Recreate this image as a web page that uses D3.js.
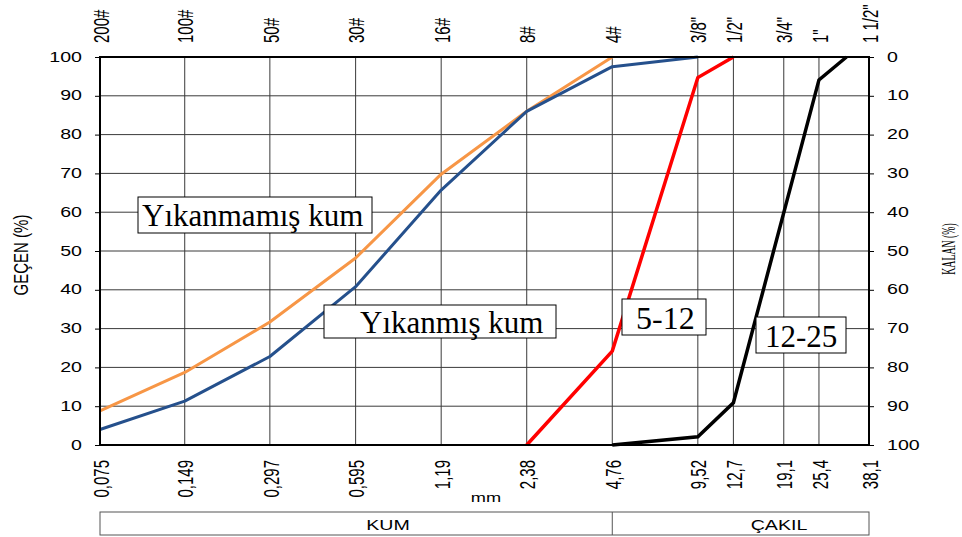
<!DOCTYPE html>
<html>
<head>
<meta charset="utf-8">
<script src="https://cdn.jsdelivr.net/npm/d3@7"></script>
<style>
  body { margin: 0; background: #fff; }
  svg { display: block; }
</style>
</head>
<body>
<svg id="chart"></svg>
<script>
// sieve openings (mm) and labels
const sizes = [0.075, 0.149, 0.297, 0.595, 1.19, 2.38, 4.76, 9.52, 12.7, 19.1, 25.4, 38.1];
const mmLabels = ["0,075", "0,149", "0,297", "0,595", "1,19", "2,38", "4,76", "9,52", "12,7", "19,1", "25,4", "38,1"];
const sieveLabels = ["200#", "100#", "50#", "30#", "16#", "8#", "4#", "3/8\"", "1/2\"", "3/4\"", "1\"", "1 1/2\""];
const yTicks = [0, 10, 20, 30, 40, 50, 60, 70, 80, 90, 100];

// passing (%) for each material
const unwashedX = [0.075, 0.149, 0.297, 0.595, 1.19, 2.38, 4.76];
const unwashedY = [8.8, 18.7, 31.7, 48.2, 69.8, 86, 100];
const washedX = [0.075, 0.149, 0.297, 0.595, 1.19, 2.38, 4.76, 9.52];
const washedY = [4, 11.3, 22.8, 40.8, 65.7, 86, 97.5, 100];
const agg512X = [2.38, 4.76, 9.52, 12.7];
const agg512Y = [0, 24.2, 94.7, 100];
const agg1225X = [4.76, 9.52, 12.7, 25.4, 31.75];
const agg1225Y = [0, 2.1, 10.9, 94.1, 100];

const draw = () => {
    let svgWidth = 962;
    let svgHeight = 537;
    let margin = { top: 57, right: 93, bottom: 92, left: 100 };
    let width = svgWidth - margin.left - margin.right;
    let height = svgHeight - margin.top - margin.bottom;
    let sans = "Liberation Sans, Arial, sans-serif";
    let serif = "Liberation Serif, Times New Roman, serif";
    let stretch = 1.4; // labels in the picture look horizontally stretched
    let vStretch = 1.5; // same for the rotated ones

    let svg = d3.select("#chart").attr("width", svgWidth).attr("height", svgHeight);

    let x = d3.scaleLog().domain([sizes[0], sizes[sizes.length - 1]]).range([margin.left, margin.left + width]);
    let y = d3.scaleLinear().domain([0, 100]).range([margin.top + height, margin.top]);
    let yRight = d3.scaleLinear().domain([100, 0]).range([margin.top + height, margin.top]);

    // grid
    svg.append("g")
        .selectAll("line.h")
        .data(yTicks.slice(1, -1))
        .enter().append("line")
        .attr("x1", margin.left).attr("x2", margin.left + width)
        .attr("y1", d => y(d)).attr("y2", d => y(d))
        .attr("stroke", "#3a3a3a").attr("stroke-width", 1);
    svg.append("g")
        .selectAll("line.v")
        .data(sizes.slice(1, -1))
        .enter().append("line")
        .attr("x1", d => x(d)).attr("x2", d => x(d))
        .attr("y1", margin.top).attr("y2", margin.top + height)
        .attr("stroke", "#3a3a3a").attr("stroke-width", 1);

    // left axis
    let left = svg.append("g")
        .attr("transform", "translate(" + margin.left + ",0)")
        .call(d3.axisLeft(y).tickValues(yTicks).tickSize(5).tickFormat(""));
    left.selectAll("path, line").attr("stroke", "#000");
    svg.append("g").selectAll("text")
        .data(yTicks).enter().append("text")
        .attr("transform", d => "translate(82," + y(d) + ") scale(" + stretch + ",1)")
        .attr("text-anchor", "end").attr("dominant-baseline", "central")
        .attr("font-family", sans).attr("font-size", "14px")
        .text(d => d);

    // right axis (retained %)
    let right = svg.append("g")
        .attr("transform", "translate(" + (margin.left + width) + ",0)")
        .call(d3.axisRight(yRight).tickValues(yTicks).tickSize(5).tickFormat(""));
    right.selectAll("path, line").attr("stroke", "#000");
    svg.append("g").selectAll("text")
        .data(yTicks).enter().append("text")
        .attr("transform", d => "translate(887," + yRight(d) + ") scale(" + stretch + ",1)")
        .attr("dominant-baseline", "central")
        .attr("font-family", sans).attr("font-size", "14px")
        .text(d => d);

    // top sieve numbers
    svg.append("g").selectAll("text")
        .data(sizes).enter().append("text")
        .attr("transform", (d, i) => "translate(" + (x(d) + 1) + ",43) scale(" + vStretch + ",1) rotate(-90)")
        .attr("dominant-baseline", "central")
        .attr("font-family", sans).attr("font-size", "15px")
        .text((d, i) => sieveLabels[i]);

    // bottom mm values
    svg.append("g").selectAll("text")
        .data(sizes).enter().append("text")
        .attr("transform", (d, i) => "translate(" + (x(d) + 1) + ",460) scale(" + vStretch + ",1) rotate(-90)")
        .attr("text-anchor", "end").attr("dominant-baseline", "central")
        .attr("font-family", sans).attr("font-size", "15px")
        .text((d, i) => mmLabels[i]);

    svg.append("text")
        .attr("transform", "translate(486,502) scale(" + stretch + ",1)")
        .attr("text-anchor", "middle")
        .attr("font-family", sans).attr("font-size", "13px")
        .text("mm");

    // axis titles
    svg.append("text")
        .attr("transform", "translate(21,255) scale(" + stretch + ",1) rotate(-90)")
        .attr("text-anchor", "middle").attr("dominant-baseline", "central")
        .attr("font-family", sans).attr("font-size", "15px")
        .text("GEÇEN (%)");
    svg.append("text")
        .attr("transform", "translate(948,249) rotate(-90) scale(0.7,1.4)")
        .attr("text-anchor", "middle").attr("dominant-baseline", "central")
        .attr("font-family", serif).attr("font-size", "14px")
        .text("KALAN (%)");

    // lines
    let line = (xs, ys) => d3.line()
        .x((d, i) => x(xs[i]))
        .y((d, i) => y(ys[i]))(ys);

    svg.append("path").attr("d", line(unwashedX, unwashedY))
        .attr("fill", "none").attr("stroke", "#F79646").attr("stroke-width", 3)
        .attr("stroke-linejoin", "round");
    svg.append("path").attr("d", line(washedX, washedY))
        .attr("fill", "none").attr("stroke", "#25508C").attr("stroke-width", 3)
        .attr("stroke-linejoin", "round");
    svg.append("path").attr("d", line(agg512X, agg512Y))
        .attr("fill", "none").attr("stroke", "#FF0000").attr("stroke-width", 3.5);
    svg.append("path").attr("d", line(agg1225X, agg1225Y))
        .attr("fill", "none").attr("stroke", "#000").attr("stroke-width", 3.5);

    // plot border
    svg.append("rect")
        .attr("x", margin.left).attr("y", margin.top)
        .attr("width", width).attr("height", height)
        .attr("fill", "none").attr("stroke", "#000").attr("stroke-width", 2);

    // series labels
    let labels = [
        { text: "Yıkanmamış kum", box: [138, 197, 234, 36], tx: 142, ty: 226, size: 31 },
        { text: "Yıkanmış kum", box: [324, 305, 232, 33], tx: 360, ty: 333, size: 31 },
        { text: "5-12", box: [622, 299, 84, 36], tx: 636, ty: 329, size: 32 },
        { text: "12-25", box: [756, 317, 90, 36], tx: 765, ty: 347, size: 31 }
    ];
    let lab = svg.append("g").selectAll("g").data(labels).enter().append("g");
    lab.append("rect")
        .attr("x", d => d.box[0]).attr("y", d => d.box[1])
        .attr("width", d => d.box[2]).attr("height", d => d.box[3])
        .attr("fill", "#fff").attr("stroke", "#000").attr("stroke-width", 1);
    lab.append("text")
        .attr("x", d => d.tx).attr("y", d => d.ty)
        .attr("font-family", serif).attr("font-size", d => d.size + "px")
        .text(d => d.text);

    // KUM / ÇAKIL band
    let band = svg.append("g");
    band.append("rect")
        .attr("x", margin.left).attr("y", 512)
        .attr("width", width).attr("height", 23)
        .attr("fill", "#fff").attr("stroke", "#555").attr("stroke-width", 1);
    band.append("line")
        .attr("x1", x(4.76)).attr("x2", x(4.76))
        .attr("y1", 512).attr("y2", 535)
        .attr("stroke", "#555").attr("stroke-width", 1);
    band.append("text")
        .attr("transform", "translate(388,530) scale(" + stretch + ",1)")
        .attr("text-anchor", "middle")
        .attr("font-family", sans).attr("font-size", "14px")
        .text("KUM");
    band.append("text")
        .attr("transform", "translate(779,530) scale(" + stretch + ",1)")
        .attr("text-anchor", "middle")
        .attr("font-family", sans).attr("font-size", "14px")
        .text("ÇAKIL");
};

draw();
</script>
</body>
</html>
